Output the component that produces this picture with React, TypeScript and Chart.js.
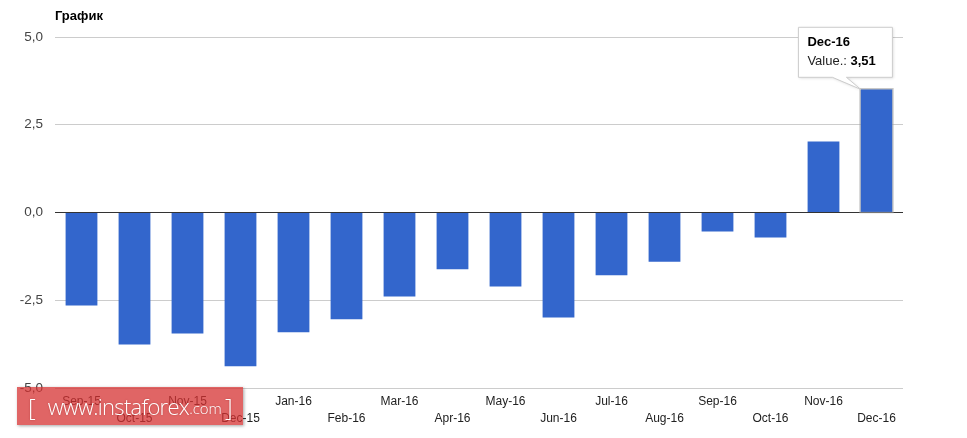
import React, { useEffect, useRef } from "react";
import { Chart, registerables } from "chart.js";

Chart.register(...registerables);

const categories = [
  "Sep-15", "Oct-15", "Nov-15", "Dec-15", "Jan-16", "Feb-16", "Mar-16", "Apr-16",
  "May-16", "Jun-16", "Jul-16", "Aug-16", "Sep-16", "Oct-16", "Nov-16", "Dec-16",
];
const values = [
  -2.65, -3.76, -3.45, -4.38, -3.41, -3.04, -2.39, -1.62,
  -2.11, -2.99, -1.79, -1.4, -0.54, -0.71, 2.02, 3.51,
];
const yTicks = [-5, -2.5, 0, 2.5, 5];
const title = "График";
const seriesLabel = "Value.";
const highlightIndex = 15;

const fmt = (v: number, d = 1) => v.toFixed(d).replace(".", ",");

const tipPlugin = {
  id: "fixedTip",
  afterDatasetsDraw(chart: any) {
    const ctx = chart.ctx;
    const meta = chart.getDatasetMeta(0);
    const el: any = meta.data[highlightIndex];
    if (!el) return;
    const p = el.getProps(["x", "y", "width", "base"], true);
    const left = p.x - p.width / 2;
    const right = p.x + p.width / 2;
    ctx.save();
    ctx.strokeStyle = "rgba(160,160,160,0.6)";
    ctx.lineWidth = 1.5;
    ctx.strokeRect(left - 0.5, p.y - 0.5, p.width + 1, p.base - p.y + 1);
    const w = 94, h = 50;
    const bx = right - w;
    const by = p.y - 12 - h;
    ctx.shadowColor = "rgba(0,0,0,0.15)";
    ctx.shadowBlur = 3;
    ctx.shadowOffsetX = 1;
    ctx.shadowOffsetY = 1;
    ctx.fillStyle = "#fff";
    ctx.beginPath();
    ctx.moveTo(bx, by);
    ctx.lineTo(bx + w, by);
    ctx.lineTo(bx + w, by + h);
    ctx.lineTo(bx + 48, by + h);
    ctx.lineTo(left, p.y);
    ctx.lineTo(bx + 34, by + h);
    ctx.lineTo(bx, by + h);
    ctx.closePath();
    ctx.fill();
    ctx.shadowColor = "transparent";
    ctx.strokeStyle = "#ccc";
    ctx.lineWidth = 1;
    ctx.stroke();
    ctx.textBaseline = "middle";
    ctx.textAlign = "left";
    ctx.fillStyle = "#000";
    ctx.font = "bold 13px Arial, 'Liberation Sans', sans-serif";
    ctx.fillText(categories[highlightIndex], bx + 9, by + 15);
    ctx.font = "13px Arial, 'Liberation Sans', sans-serif";
    const lbl = seriesLabel + ": ";
    ctx.fillStyle = "#222";
    ctx.fillText(lbl, bx + 9, by + 34);
    const lw = ctx.measureText(lbl).width;
    ctx.font = "bold 13px Arial, 'Liberation Sans', sans-serif";
    ctx.fillStyle = "#000";
    ctx.fillText(fmt(values[highlightIndex], 2), bx + 9 + lw, by + 34);
    ctx.restore();
  },
};

export default function App() {
  const ref = useRef<HTMLCanvasElement>(null);
  useEffect(() => {
    document.body.style.margin = "0";
    const labels = categories.map((c, i) => (i % 2 === 0 ? [c, ""] : ["", c]));
    const chart = new Chart(ref.current!, {
      type: "bar",
      data: {
        labels,
        datasets: [
          {
            label: seriesLabel,
            data: values,
            backgroundColor: "#3366cc",
            borderWidth: 0,
            barPercentage: 0.6,
            categoryPercentage: 1.0,
          },
        ],
      },
      options: {
        responsive: false,
        animation: false,
        devicePixelRatio: 1,
        layout: { padding: { top: 37, right: 64, left: 0, bottom: 0 } },
        plugins: {
          legend: { display: false },
          tooltip: { enabled: false },
          title: { display: false },
        },
        scales: {
          x: {
            grid: { display: false, drawTicks: false },
            border: { display: false },
            ticks: {
              autoSkip: false,
              maxRotation: 0,
              minRotation: 0,
              padding: 5,
              color: "#222",
              font: { family: "Arial, 'Liberation Sans', sans-serif", size: 12, lineHeight: 1.4 },
            },
            afterFit: (s: any) => {
              s.height = 50;
            },
          },
          y: {
            min: -5,
            max: 5,
            afterBuildTicks: (s: any) => {
              s.ticks = yTicks.map((v) => ({ value: v }));
            },
            grid: {
              drawTicks: false,
              color: (c: any) => (c.tick && c.tick.value === 0 ? "#333" : "#ccc"),
              lineWidth: 1,
            },
            border: { display: false },
            ticks: {
              padding: 12,
              color: "#444",
              font: { family: "Arial, 'Liberation Sans', sans-serif", size: 13.5 },
              callback: (v: any) => fmt(Number(v), 1),
            },
            afterFit: (s: any) => {
              s.width = 55;
            },
          },
        },
      },
      plugins: [tipPlugin],
    });
    return () => chart.destroy();
  }, []);

  return (
    <div style={{ position: "absolute", left: 0, top: 0, width: 967, height: 438, background: "#fff" }}>
      <canvas ref={ref} width={967} height={438} style={{ position: "absolute", left: 0, top: 0 }} />
      <div
        style={{
          position: "absolute",
          left: 55,
          top: 8,
          font: "bold 13px Arial, 'Liberation Sans', sans-serif",
          color: "#000",
        }}
      >
        {title}
      </div>
      <div
        style={{
          position: "absolute",
          left: 17,
          top: 387,
          width: 226,
          height: 38,
          overflow: "hidden",
          background: "rgba(214,50,50,0.75)",
          boxShadow: "1px 1px 3px rgba(0,0,0,0.35)",
          color: "#fff",
          fontFamily: "'Open Sans', 'DejaVu Sans', sans-serif",
          fontWeight: 300,
          display: "flex",
          alignItems: "center",
          whiteSpace: "nowrap",
          textShadow: "0 0 2px rgba(120,0,0,0.4)",
        }}
      >
        <span style={{ fontSize: 24, marginLeft: 11 }}>[</span>
        <span style={{ fontSize: 22, marginLeft: 12, letterSpacing: -0.7 }}>www.instaforex</span>
        <span style={{ fontSize: 15, marginTop: 4 }}>.com</span>
        <span style={{ fontSize: 24, marginLeft: 3 }}>]</span>
      </div>
    </div>
  );
}
